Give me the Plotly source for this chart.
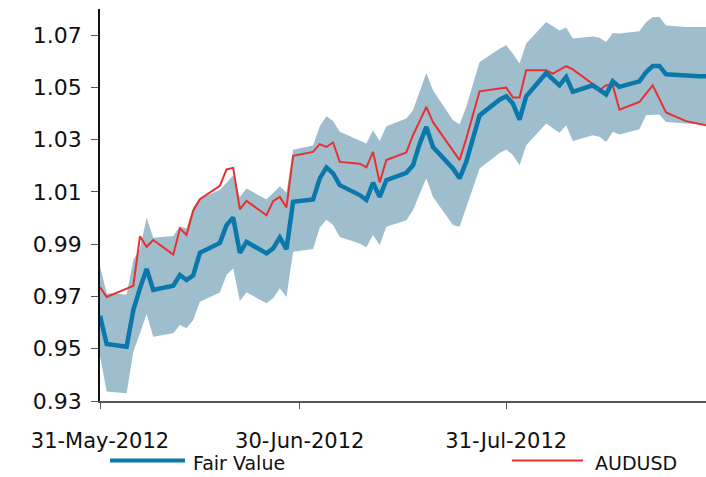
import plotly.graph_objects as go

dates = ["2012-05-31","2012-06-01","2012-06-04","2012-06-05","2012-06-06","2012-06-07","2012-06-08",
         "2012-06-11","2012-06-12","2012-06-13","2012-06-14","2012-06-15","2012-06-18","2012-06-19",
         "2012-06-20","2012-06-21","2012-06-22","2012-06-25","2012-06-26","2012-06-27","2012-06-28",
         "2012-06-29","2012-07-02","2012-07-03","2012-07-04","2012-07-05","2012-07-06","2012-07-09",
         "2012-07-10","2012-07-11","2012-07-12","2012-07-13","2012-07-16","2012-07-17","2012-07-18",
         "2012-07-19","2012-07-20","2012-07-23","2012-07-24","2012-07-25","2012-07-26","2012-07-27",
         "2012-07-30","2012-07-31","2012-08-01","2012-08-02","2012-08-03","2012-08-06","2012-08-07",
         "2012-08-08","2012-08-09","2012-08-10","2012-08-13","2012-08-14","2012-08-15","2012-08-16",
         "2012-08-17","2012-08-20","2012-08-21","2012-08-22","2012-08-23","2012-08-24","2012-08-27",
         "2012-08-28","2012-08-29","2012-08-30"]

fair_value = [0.9626, 0.9518, 0.9508, 0.9648, 0.9731, 0.9805, 0.9725, 0.9741, 0.9782, 0.9763, 0.9781,
              0.9867, 0.9905, 0.9973, 1.0002, 0.9867, 0.9909, 0.9865, 0.9884, 0.9926, 0.9881, 1.0062,
              1.0071, 1.0152, 1.0194, 1.0171, 1.0126, 1.0088, 1.0069, 1.0135, 1.0081, 1.0145, 1.0173,
              1.0202, 1.0284, 1.0349, 1.0272, 1.0190, 1.0152, 1.0215, 1.0304, 1.0393, 1.0453, 1.0466,
              1.0438, 1.0377, 1.0466, 1.0555, 1.0531, 1.0508, 1.0540, 1.0483, 1.0508, 1.0489, 1.0473,
              1.0523, 1.0502, 1.0523, 1.0558, 1.0582, 1.0582, 1.0550, 1.0544, 1.0543, 1.0543, 1.0543]

audusd = [0.9736, 0.9698, 0.9730, 0.9741, 0.9930, 0.9890, 0.9916, 0.9860, 0.9960, 0.9936, 1.0028,
          1.0072, 1.0123, 1.0186, 1.0192, 1.0033, 1.0066, 1.0011, 1.0065, 1.0081, 1.0041, 1.0238,
          1.0253, 1.0283, 1.0272, 1.0289, 1.0215, 1.0208, 1.0194, 1.0253, 1.0136, 1.0222, 1.0251,
          1.0317, 1.0371, 1.0425, 1.0367, 1.0260, 1.0222, 1.0304, 1.0395, 1.0485, 1.0496, 1.0499,
          1.0461, 1.0461, 1.0566, 1.0566, 1.0553, 1.0567, 1.0581, 1.0569, 1.0513, 1.0489, 1.0508,
          1.0508, 1.0415, 1.0444, 1.0475, 1.0508, 1.0456, 1.0404, 1.0371, 1.0365, 1.0359, 1.0355]

band_upper = [0.9816, 0.9712, 0.9708, 0.9839, 0.9884, 1.0001, 0.9925, 0.9931, 0.9969, 0.9960, 1.0042,
              1.0075, 1.0107, 1.0135, 1.0164, 1.0081, 1.0113, 1.0071, 1.0095, 1.0122, 1.0097, 1.0261,
              1.0278, 1.0351, 1.0390, 1.0371, 1.0330, 1.0298, 1.0285, 1.0336, 1.0295, 1.0351, 1.0381,
              1.0413, 1.0484, 1.0555, 1.0489, 1.0374, 1.0359, 1.0425, 1.0512, 1.0597, 1.0648, 1.0661,
              1.0629, 1.0591, 1.0668, 1.0750, 1.0734, 1.0718, 1.0729, 1.0687, 1.0695, 1.0690, 1.0674,
              1.0708, 1.0706, 1.0715, 1.0749, 1.0769, 1.0769, 1.0737, 1.0731, 1.0731, 1.0731, 1.0731]

band_lower = [0.9472, 0.9336, 0.9330, 0.9488, 0.9559, 0.9633, 0.9546, 0.9559, 0.9591, 0.9578, 0.9610,
              0.9680, 0.9715, 0.9782, 0.9808, 0.9683, 0.9716, 0.9674, 0.9693, 0.9731, 0.9698, 0.9871,
              0.9882, 0.9964, 0.9994, 0.9973, 0.9928, 0.9903, 0.9888, 0.9935, 0.9897, 0.9967, 0.9992,
              1.0030, 1.0092, 1.0152, 1.0081, 0.9973, 0.9967, 1.0043, 1.0118, 1.0190, 1.0249, 1.0262,
              1.0241, 1.0202, 1.0279, 1.0362, 1.0344, 1.0326, 1.0355, 1.0295, 1.0317, 1.0311, 1.0291,
              1.0330, 1.0320, 1.0340, 1.0393, 1.0395, 1.0396, 1.0368, 1.0362, 1.0358, 1.0358, 1.0358]

x_tick_vals = ["2012-05-31", "2012-06-30", "2012-07-31"]
x_tick_text = ["31-May-2012", "30-Jun-2012", "31-Jul-2012"]
y_tick_vals = [0.93, 0.95, 0.97, 0.99, 1.01, 1.03, 1.05, 1.07]

BAND = "#9EBDCD"
BLUE = "#0A78AA"
RED = "#E8312F"
FONT = "DejaVu Sans"

W, H = 706, 477
L, T, B = 100, 9, H - 401

fig = go.Figure()
fig.add_trace(go.Scatter(x=dates, y=band_lower, mode="lines", line=dict(width=0, color=BAND),
                         showlegend=False, hoverinfo="skip"))
fig.add_trace(go.Scatter(x=dates, y=band_upper, mode="lines", line=dict(width=0, color=BAND),
                         fill="tonexty", fillcolor=BAND, showlegend=False, hoverinfo="skip"))
fig.add_trace(go.Scatter(x=dates, y=audusd, mode="lines", name="AUDUSD",
                         line=dict(color=RED, width=2), showlegend=False))
fig.add_trace(go.Scatter(x=dates, y=fair_value, mode="lines", name="Fair Value",
                         line=dict(color=BLUE, width=4.5), showlegend=False))

fig.update_layout(
    width=W, height=H,
    margin=dict(l=L, r=0, t=T, b=B, autoexpand=False),
    paper_bgcolor="white", plot_bgcolor="white",
    font=dict(family=FONT, size=22, color="#111111"),
    xaxis=dict(
        type="date", range=["2012-05-31", "2012-08-30"],
        tickvals=x_tick_vals, ticktext=x_tick_text,
        ticks="outside", ticklen=6, tickcolor="#555555", tickwidth=1,
        showline=True, linecolor="#555555", linewidth=1.5,
        showgrid=False, zeroline=False, automargin=False,
        tickfont=dict(family=FONT, size=21, color="#111111"),
        ticklabelstandoff=14,
    ),
    yaxis=dict(
        range=[0.93, 1.08],
        tickvals=y_tick_vals, tickformat=".2f",
        ticks="outside", ticklen=7, tickcolor="#555555", tickwidth=1,
        showline=True, linecolor="#111111", linewidth=1.5,
        showgrid=False, zeroline=False, automargin=False,
        tickfont=dict(family=FONT, size=22, color="#111111"),
        ticklabelstandoff=5,
    ),
)

plot_h = H - T - B
def py_to_paper(py):
    return (401 - py) / plot_h

def px_to_paper(px):
    return (px - L) / (W - L)

legend_line_y = py_to_paper(460.5)
legend_text_y = py_to_paper(463.0)
fig.add_shape(type="line", xref="paper", yref="paper", x0=px_to_paper(110), x1=px_to_paper(185),
              y0=legend_line_y, y1=legend_line_y, line=dict(color=BLUE, width=4))
fig.add_shape(type="line", xref="paper", yref="paper", x0=px_to_paper(512), x1=px_to_paper(583),
              y0=legend_line_y, y1=legend_line_y, line=dict(color=RED, width=2))
fig.add_annotation(text="Fair Value", xref="paper", yref="paper", x=px_to_paper(191), y=legend_text_y,
                   xanchor="left", yanchor="middle", showarrow=False,
                   font=dict(family=FONT, size=19, color="#111111"))
fig.add_annotation(text="AUDUSD", xref="paper", yref="paper", x=px_to_paper(593), y=legend_text_y,
                   xanchor="left", yanchor="middle", showarrow=False,
                   font=dict(family=FONT, size=19, color="#111111"))

fig.write_html("out.html",
               config={"displayModeBar": False},
               post_script="document.body.style.margin='0';document.body.style.overflow='hidden';")
